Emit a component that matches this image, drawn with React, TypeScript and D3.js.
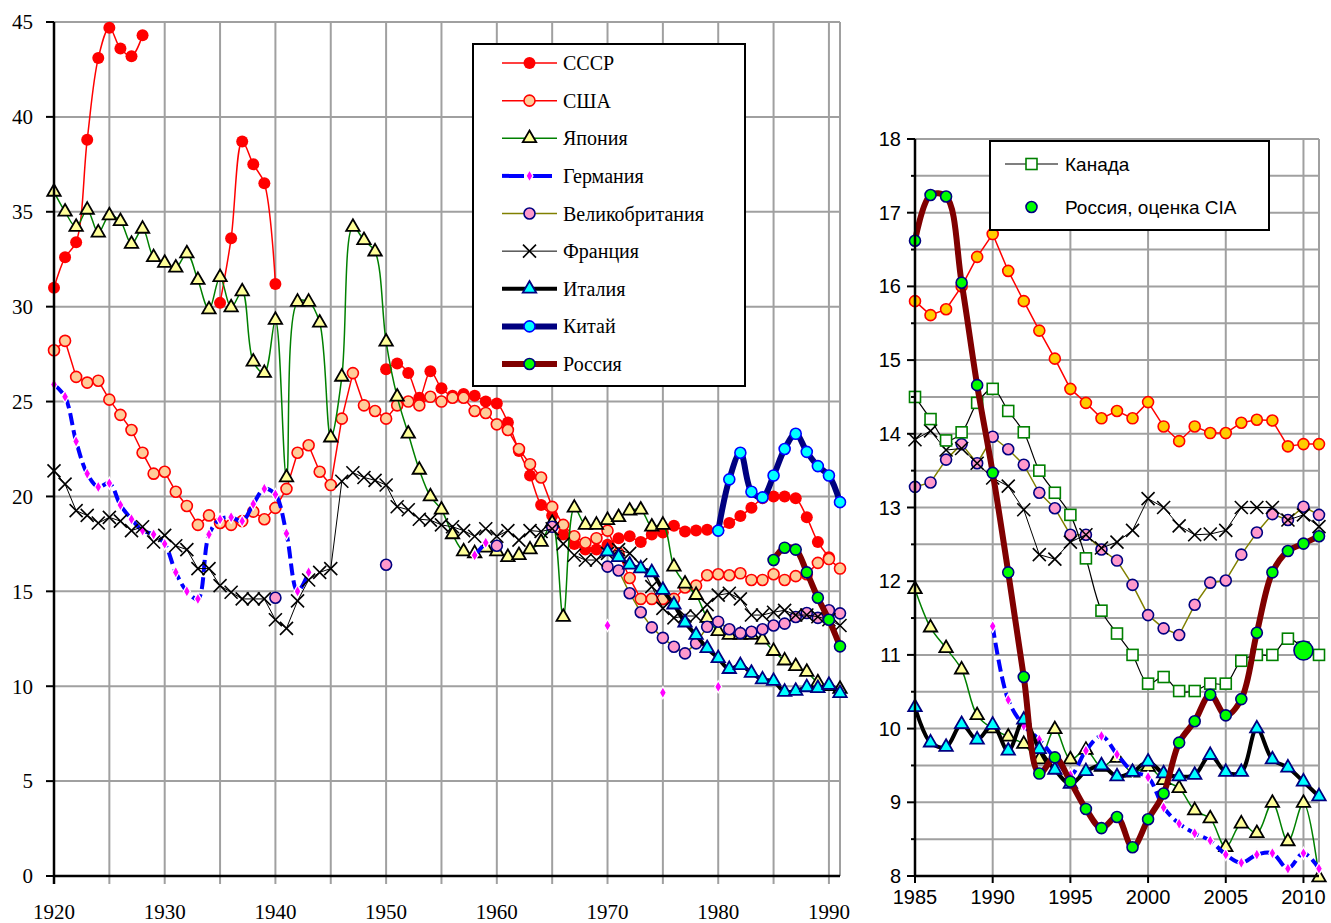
import * as d3 from "d3";

// ---------- left panel: 1920–1991 ----------
const leftYearStart = 1920;
const ussr = [31.0, 32.6, 33.4, 38.8, 43.1, 44.7, 43.6, 43.2, 44.3,
  null, null, null, null, null, null,
  30.2, 33.6, 38.7, 37.5, 36.5, 31.2,
  null, null, null, null, null, null, null, null, null,
  26.7, 27.0, 26.5, 25.2, 26.6, 25.7, 25.3, 25.4, 25.3, 25.0,
  24.9, 23.9, 22.4, 21.1, 19.55, 19.0, 18.0, 17.5, 17.2, 17.2,
  17.45, 17.8, 17.9, 17.6, 18.0, 18.1, 18.45, 18.15, 18.2, 18.25,
  18.2, 18.6, 18.97, 19.4, 19.9, 20.0, 20.0, 19.9, 18.9, 17.6, 16.8];
const usa = [27.7, 28.2, 26.3, 26.0, 26.1, 25.1, 24.3, 23.5, 22.3, 21.2,
  21.3, 20.25, 19.5, 18.5, 19.0, 18.6, 18.5, 18.7, 19.2, 18.8,
  19.4, 20.4, 22.3, 22.7, 21.3, 20.6, 24.1, 26.5, 24.8, 24.5,
  24.1, 24.8, 25.0, 24.8, 25.25, 25.0, 25.2, 25.2, 24.5, 24.4,
  23.8, 23.5, 22.5, 21.7, 21.0, 19.45, 18.5, 17.9, 17.56, 17.8,
  18.2, 17.0, 15.7, 14.6, 14.6, 14.6, 14.6, 15.2, 15.3, 15.85,
  15.9, 15.85, 15.95, 15.6, 15.6, 15.9, 15.6, 15.8, 15.9, 16.5, 16.7, 16.2];
const japan = [36.05, 35.0, 34.2, 35.1, 33.9, 34.8, 34.5, 33.3, 34.1, 32.6,
  32.3, 32.05, 32.8, 31.4, 29.85, 31.55, 29.96, 30.8, 27.1, 26.5,
  29.3, 21.0, 30.25, 30.25, 29.15, 23.1, 26.3, 34.2, 33.5, 32.9,
  28.15, 25.25, 23.3, 21.4, 20.0, 19.3, 18.0, 17.1, 17.0, 17.3,
  17.1, 16.8, 16.9, 17.2, 17.6, 18.6, 13.65, 19.4, 18.5, 18.5,
  18.75, 18.9, 19.25, 19.3, 18.4, 18.5, 16.3, 15.4, 14.8, 13.6,
  12.9, 12.7, 12.7, 12.7, 12.45, 11.85, 11.35, 11.05, 10.75, 10.2, 10.0, 9.85];
const germany = [25.9, 25.25, 22.9, 21.2, 20.5, 20.7, 19.55, 18.8, 18.2, 18.0,
  17.5, 16.0, 15.0, 14.6, 18.0, 18.8, 18.9, 18.7, 19.6, 20.4,
  20.1, 18.05, 15.0, 16.0, null, null, null, null, null, null,
  null, null, null, null, null, null, null, null, 16.9, 17.56,
  null, null, null, null, null, null, null, null, null, null,
  13.2, null, null, null, null, 9.66, null, null, null, null,
  9.97];
const britain = [null, null, null, null, null, null, null, null, null, null,
  null, null, null, null, null, null, null, null, null, null,
  14.66, null, null, null, null, null, null, null, null, null,
  16.4, null, null, null, null, null, null, null, null, null,
  17.4, null, null, null, null, 18.4, null, null, null, null,
  16.3, 16.1, 14.9, 13.9, 13.1, 12.55, 12.08, 11.73, 12.26, 13.13,
  13.4, 13.0, 12.8, 12.87, 13.0, 13.2, 13.3, 13.65, 13.86, 13.6, 14.0, 13.84];
const france = [21.35, 20.65, 19.25, 19.0, 18.6, 18.9, 18.7, 18.2, 18.4, 17.6,
  17.95, 17.4, 17.2, 16.2, 16.2, 15.3, 14.95, 14.6, 14.6, 14.6,
  13.5, 13.05, 14.5, 15.6, 16.0, 16.2, 20.8, 21.25, 21.0, 20.85,
  20.6, 19.46, 19.3, 18.8, 18.75, 18.5, 18.4, 18.2, 17.9, 18.3,
  17.9, 18.2, 17.7, 18.2, 18.15, 18.3, 17.5, 16.9, 16.65, 16.65,
  17.0, 17.2, 17.0, 16.4, 15.25, 14.1, 13.6, 13.7, 13.7, 14.3,
  14.8, 14.9, 14.6, 13.75, 13.75, 13.9, 14.0, 13.75, 13.75, 13.66, 13.5, 13.2];
const italyStart = 1970;
const italy = [17.1, 16.8, 16.4, 16.2, 16.0, 15.07, 14.3, 13.35, 12.7, 12.0,
  11.47, 10.9, 11.1, 10.7, 10.35, 10.27, 9.7, 9.75, 9.94, 9.89, 10.06, 9.63];
const chinaStart = 1980;
const china = [18.2, 20.9, 22.3, 20.25, 19.95, 21.1, 22.5, 23.3, 22.35, 21.6, 21.1, 19.7];
const russiaLeftStart = 1985;
const russiaLeft = [16.65, 17.3, 17.2, 16.0, 14.66, 13.5, 12.1];

// ---------- right panel: 1985–2011 ----------
const rightYearStart = 1985;
const usaR = [15.80, 15.61, 15.69, 16.0, 16.40, 16.71, 16.21, 15.80, 15.40, 15.02,
  14.61, 14.42, 14.21, 14.31, 14.21, 14.43, 14.10, 13.90, 14.10, 14.01,
  14.01, 14.15, 14.19, 14.18, 13.83, 13.86, 13.86];
const russiaR = [16.62, 17.24, 17.22, 16.05, 14.66, 13.47, 12.12, 10.70, 9.39, 9.61,
  9.28, 8.91, 8.65, 8.80, 8.39, 8.77, 9.12, 9.81, 10.10, 10.46,
  10.18, 10.40, 11.30, 12.12, 12.41, 12.51, 12.61];
const canadaR = [14.50, 14.20, 13.91, 14.02, 14.42, 14.61, 14.31, 14.02, 13.50, 13.20,
  12.90, 12.31, 11.60, 11.29, 11.00, 10.61, 10.70, 10.51, 10.51, 10.61,
  10.61, 10.92, 11.00, 11.00, 11.22, 11.10, 11.00];
const britainR = [13.28, 13.34, 13.65, 13.86, 13.60, 13.96, 13.79, 13.58, 13.20, 12.99,
  12.63, 12.63, 12.43, 12.28, 11.95, 11.54, 11.36, 11.27, 11.68, 11.98,
  12.01, 12.36, 12.66, 12.91, 12.83, 13.01, 12.90];
const franceR = [13.92, 14.04, 13.78, 13.80, 13.60, 13.40, 13.29, 12.97, 12.36, 12.30,
  12.53, 12.63, 12.45, 12.53, 12.69, 13.12, 13.00, 12.75, 12.63, 12.64,
  12.69, 13.00, 13.00, 13.00, 12.83, 12.90, 12.74];
const japanR = [11.89, 11.37, 11.09, 10.80, 10.18, 10.0, 9.89, 9.79, 9.58, 9.99,
  9.58, 9.71, 9.48, 9.60, 9.40, 9.48, 9.30, 9.19, 8.89, 8.78,
  8.39, 8.71, 8.58, 8.99, 8.47, 8.99, 7.98];
const italyR = [10.29, 9.81, 9.75, 10.06, 9.85, 10.05, 9.70, 10.12, 9.72, 9.44,
  9.25, 9.42, 9.50, 9.35, 9.41, 9.55, 9.39, 9.35, 9.37, 9.64,
  9.41, 9.41, 10.0, 9.58, 9.47, 9.28, 9.08];
const germanyRStart = 1990;
const germanyR = [11.39, 10.39, 10.04, 9.85, 9.6, 9.37, 9.7, 9.90, 9.65, 9.42,
  9.34, 8.93, 8.71, 8.58, 8.48, 8.29, 8.18, 8.29, 8.31, 8.10, 8.31, 8.10];
const ciaYear = 2010;
const ciaValue = 11.06;

const leftYTicks = [0, 5, 10, 15, 20, 25, 30, 35, 40, 45];
const leftXLabels = [1920, 1930, 1940, 1950, 1960, 1970, 1980, 1990];
const leftXGrid = [1925, 1930, 1935, 1940, 1945, 1950, 1955, 1960, 1965, 1970, 1975, 1980, 1985, 1990, 1991];
const rightYTicks = [8, 9, 10, 11, 12, 13, 14, 15, 16, 17, 18];
const rightYMinor = [8.5, 9.5, 10.5, 11.5, 12.5, 13.5, 14.5, 15.5, 16.5, 17.5];
const rightXLabels = [1985, 1990, 1995, 2000, 2005, 2010];
const rightXGrid = [1990, 1995, 2000, 2005, 2010, 2011];

type Pt = { x: number; v: number | null };
const pts = (start: number, vals: (number | null)[]): Pt[] => vals.map((v, i) => ({ x: start + i, v }));

type Style = {
  name: string;
  color: string;
  width: number;
  dash?: string;
  smooth: boolean;
  marker: "dot" | "circle" | "tri" | "diamond" | "x" | "square" | "none";
  fill: string;
  mstroke: string;
};

const ST: Record<string, Style> = {
  ussr: { name: "СССР", color: "#ff0000", width: 1.5, smooth: true, marker: "dot", fill: "#ff0000", mstroke: "#ff0000" },
  usa: { name: "США", color: "#ff0000", width: 1.5, smooth: false, marker: "circle", fill: "#ffcc99", mstroke: "#ff0000" },
  japan: { name: "Япония", color: "#008000", width: 1.5, smooth: true, marker: "tri", fill: "#ffff99", mstroke: "#000000" },
  germany: { name: "Германия", color: "#0000ff", width: 4, dash: "12,5", smooth: true, marker: "diamond", fill: "#ff00ff", mstroke: "#ffffff" },
  britain: { name: "Великобритания", color: "#808000", width: 1.5, smooth: false, marker: "circle", fill: "#ff99cc", mstroke: "#000080" },
  france: { name: "Франция", color: "#000000", width: 1, smooth: false, marker: "x", fill: "none", mstroke: "#000000" },
  italy: { name: "Италия", color: "#000000", width: 4, smooth: true, marker: "tri", fill: "#00ffff", mstroke: "#000080" },
  china: { name: "Китай", color: "#000080", width: 6, smooth: true, marker: "circle", fill: "#00ffff", mstroke: "#0000ff" },
  russia: { name: "Россия", color: "#800000", width: 6, smooth: true, marker: "circle", fill: "#00ff00", mstroke: "#000080" },
  canada: { name: "Канада", color: "#000000", width: 1.2, smooth: true, marker: "square", fill: "#ffffff", mstroke: "#008000" },
  cia: { name: "Россия, оценка CIA", color: "none", width: 0, smooth: false, marker: "circle", fill: "#00ff00", mstroke: "#000080" },
};

const leftSeries: { st: Style; data: Pt[] }[] = [
  { st: ST.ussr, data: pts(leftYearStart, ussr) },
  { st: ST.usa, data: pts(leftYearStart, usa) },
  { st: ST.japan, data: pts(leftYearStart, japan) },
  { st: ST.germany, data: pts(leftYearStart, germany) },
  { st: ST.britain, data: pts(leftYearStart, britain) },
  { st: ST.france, data: pts(leftYearStart, france) },
  { st: ST.italy, data: pts(italyStart, italy) },
  { st: ST.china, data: pts(chinaStart, china) },
  { st: ST.russia, data: pts(russiaLeftStart, russiaLeft) },
];

const usaRStyle: Style = { ...ST.usa, fill: "#ffcc00" };
const rightSeries: { st: Style; data: Pt[] }[] = [
  { st: usaRStyle, data: pts(rightYearStart, usaR) },
  { st: ST.japan, data: pts(rightYearStart, japanR) },
  { st: ST.germany, data: pts(germanyRStart, germanyR) },
  { st: ST.britain, data: pts(rightYearStart, britainR) },
  { st: ST.france, data: pts(rightYearStart, franceR) },
  { st: ST.italy, data: pts(rightYearStart, italyR) },
  { st: ST.canada, data: pts(rightYearStart, canadaR) },
  { st: ST.russia, data: pts(rightYearStart, russiaR) },
];

function Marker({ st, x, y, r = 5.5 }: { st: Style; x: number; y: number; r?: number }) {
  switch (st.marker) {
    case "dot":
      return <circle cx={x} cy={y} r={r + 0.5} fill={st.fill} />;
    case "circle":
      return <circle cx={x} cy={y} r={r} fill={st.fill} stroke={st.mstroke} strokeWidth={1.6} />;
    case "tri":
      return (
        <path
          transform={`translate(${x},${y})`}
          d={d3.symbol(d3.symbolTriangle, 78)() || ""}
          fill={st.fill}
          stroke={st.mstroke}
          strokeWidth={1.8}
          strokeLinejoin="miter"
        />
      );
    case "diamond":
      return (
        <path
          transform={`translate(${x},${y})`}
          d={d3.symbol(d3.symbolDiamond, 42)() || ""}
          fill={st.fill}
          stroke={st.mstroke}
          strokeWidth={1.2}
        />
      );
    case "x":
      return (
        <g stroke="#000" strokeWidth={1.6}>
          <line x1={x - 6.5} y1={y - 6.5} x2={x + 6.5} y2={y + 6.5} />
          <line x1={x - 6.5} y1={y + 6.5} x2={x + 6.5} y2={y - 6.5} />
        </g>
      );
    case "square":
      return <rect x={x - 5.5} y={y - 5.5} width={11} height={11} fill={st.fill} stroke={st.mstroke} strokeWidth={1.6} />;
    default:
      return null;
  }
}

function Series({ st, data, xs, ys }: { st: Style; data: Pt[]; xs: d3.ScaleLinear<number, number>; ys: d3.ScaleLinear<number, number> }) {
  const line = d3
    .line<Pt>()
    .defined((d) => d.v != null)
    .x((d) => xs(d.x))
    .y((d) => ys(d.v as number))
    .curve(st.smooth ? d3.curveCatmullRom.alpha(0.5) : d3.curveLinear);
  return (
    <g>
      <path d={line(data) || ""} fill="none" stroke={st.color} strokeWidth={st.width} strokeDasharray={st.dash} strokeLinejoin="round" />
      {data
        .filter((d) => d.v != null)
        .map((d, i) => (
          <Marker key={i} st={st} x={xs(d.x)} y={ys(d.v as number)} />
        ))}
    </g>
  );
}

function LegendLine({ st, x1, x2, y }: { st: Style; x1: number; x2: number; y: number }) {
  if (st.width === 0) return <Marker st={st} x={(x1 + x2) / 2} y={y} />;
  return (
    <g>
      <line x1={x1} y1={y} x2={x2} y2={y} stroke={st.color} strokeWidth={st.width} strokeDasharray={st.dash ? "22,6" : undefined} />
      <Marker st={st} x={(x1 + x2) / 2} y={y} />
    </g>
  );
}

export default function App() {
  const W = 1331;
  const H = 923;

  const xL = d3.scaleLinear().domain([1920, 1991]).range([54, 840]);
  const yL = d3.scaleLinear().domain([0, 45]).range([876, 22]);
  const xR = d3.scaleLinear().domain([1985, 2011]).range([915, 1319]);
  const yR = d3.scaleLinear().domain([8, 18]).range([876, 139]);

  const grid = "#a0a0a0";
  const serif = "'Liberation Serif', 'Times New Roman', serif";
  const sans = "'Liberation Sans', Arial, sans-serif";

  const legendY = d3.scaleLinear().domain([0, 8]).range([63, 364]);

  return (
    <svg width={W} height={H} style={{ position: "absolute", left: 0, top: 0, background: "#fff" }}>
      <rect width={W} height={H} fill="#fff" />

      {/* ---------- left panel ---------- */}
      <g>
        {leftYTicks.map((t) => (
          <line key={"lg" + t} x1={xL(1920)} x2={xL(1991)} y1={yL(t)} y2={yL(t)} stroke={grid} strokeWidth={2} />
        ))}
        {leftXGrid.map((t) => (
          <line key={"lv" + t} x1={xL(t)} x2={xL(t)} y1={yL(45)} y2={yL(0) + (t === 1991 ? 0 : 8)} stroke={grid} strokeWidth={2} />
        ))}
        {leftSeries.map((s, i) => (
          <Series key={i} st={s.st} data={s.data} xs={xL} ys={yL} />
        ))}
        <line x1={xL(1920)} x2={xL(1920)} y1={yL(45)} y2={yL(0) + 8} stroke="#000" strokeWidth={2.5} />
        <line x1={xL(1920)} x2={xL(1991)} y1={yL(0)} y2={yL(0)} stroke="#000" strokeWidth={2.5} />
        {leftYTicks.map((t) => (
          <g key={"lt" + t}>
            <line x1={xL(1920) - 8} x2={xL(1920)} y1={yL(t)} y2={yL(t)} stroke="#000" strokeWidth={2} />
            <text x={33} y={yL(t)} dy="0.35em" textAnchor="end" fontFamily={serif} fontSize={21}>
              {t}
            </text>
          </g>
        ))}
        {leftXLabels.map((t) => (
          <text key={"lx" + t} x={xL(t)} y={919} textAnchor="middle" fontFamily={serif} fontSize={21}>
            {t}
          </text>
        ))}

        {/* legend */}
        <rect x={473} y={44} width={272} height={342} fill="#fff" stroke="#000" strokeWidth={2} />
        {leftSeries.map((s, i) => (
          <g key={"leg" + i}>
            <LegendLine st={s.st} x1={502} x2={557} y={legendY(i)} />
            <text x={563} y={legendY(i)} dy="0.35em" fontFamily={serif} fontSize={20}>
              {s.st.name}
            </text>
          </g>
        ))}
      </g>

      {/* ---------- right panel ---------- */}
      <g>
        {[...rightYTicks, ...rightYMinor].map((t) => (
          <line key={"rg" + t} x1={xR(1985)} x2={xR(2011)} y1={yR(t)} y2={yR(t)} stroke={grid} strokeWidth={2} />
        ))}
        {rightXGrid.map((t) => (
          <line key={"rv" + t} x1={xR(t)} x2={xR(t)} y1={yR(18)} y2={yR(8)} stroke={grid} strokeWidth={2} />
        ))}
        {rightSeries.map((s, i) => (
          <Series key={i} st={s.st} data={s.data} xs={xR} ys={yR} />
        ))}
        <Marker st={ST.cia} x={xR(ciaYear)} y={yR(ciaValue)} r={9.5} />
        <line x1={xR(1985)} x2={xR(1985)} y1={yR(18)} y2={yR(8)} stroke="#000" strokeWidth={2.5} />
        <line x1={xR(1985)} x2={xR(2011)} y1={yR(8)} y2={yR(8)} stroke="#000" strokeWidth={2.5} />
        {rightYTicks.map((t) => (
          <g key={"rt" + t}>
            <line x1={xR(1985) - 8} x2={xR(1985)} y1={yR(t)} y2={yR(t)} stroke="#000" strokeWidth={2} />
            <text x={901} y={yR(t)} dy="0.35em" textAnchor="end" fontFamily={sans} fontSize={20}>
              {t}
            </text>
          </g>
        ))}
        {rightYMinor.map((t) => (
          <line key={"rm" + t} x1={xR(1985) - 4} x2={xR(1985)} y1={yR(t)} y2={yR(t)} stroke="#000" strokeWidth={2} />
        ))}
        {rightXLabels.map((t) => (
          <g key={"rx" + t}>
            <line x1={xR(t)} x2={xR(t)} y1={yR(8)} y2={yR(8) + 7} stroke="#000" strokeWidth={2} />
            <text x={xR(t)} y={904} textAnchor="middle" fontFamily={sans} fontSize={20}>
              {t}
            </text>
          </g>
        ))}

        {/* legend */}
        <rect x={990} y={141} width={279} height={89} fill="#fff" stroke="#000" strokeWidth={2} />
        <LegendLine st={ST.canada} x1={1005} x2={1058} y={164} />
        <text x={1065} y={164} dy="0.35em" fontFamily={sans} fontSize={19}>
          {ST.canada.name}
        </text>
        <LegendLine st={ST.cia} x1={1005} x2={1058} y={207} />
        <text x={1065} y={207} dy="0.35em" fontFamily={sans} fontSize={19}>
          {ST.cia.name}
        </text>
      </g>
    </svg>
  );
}
